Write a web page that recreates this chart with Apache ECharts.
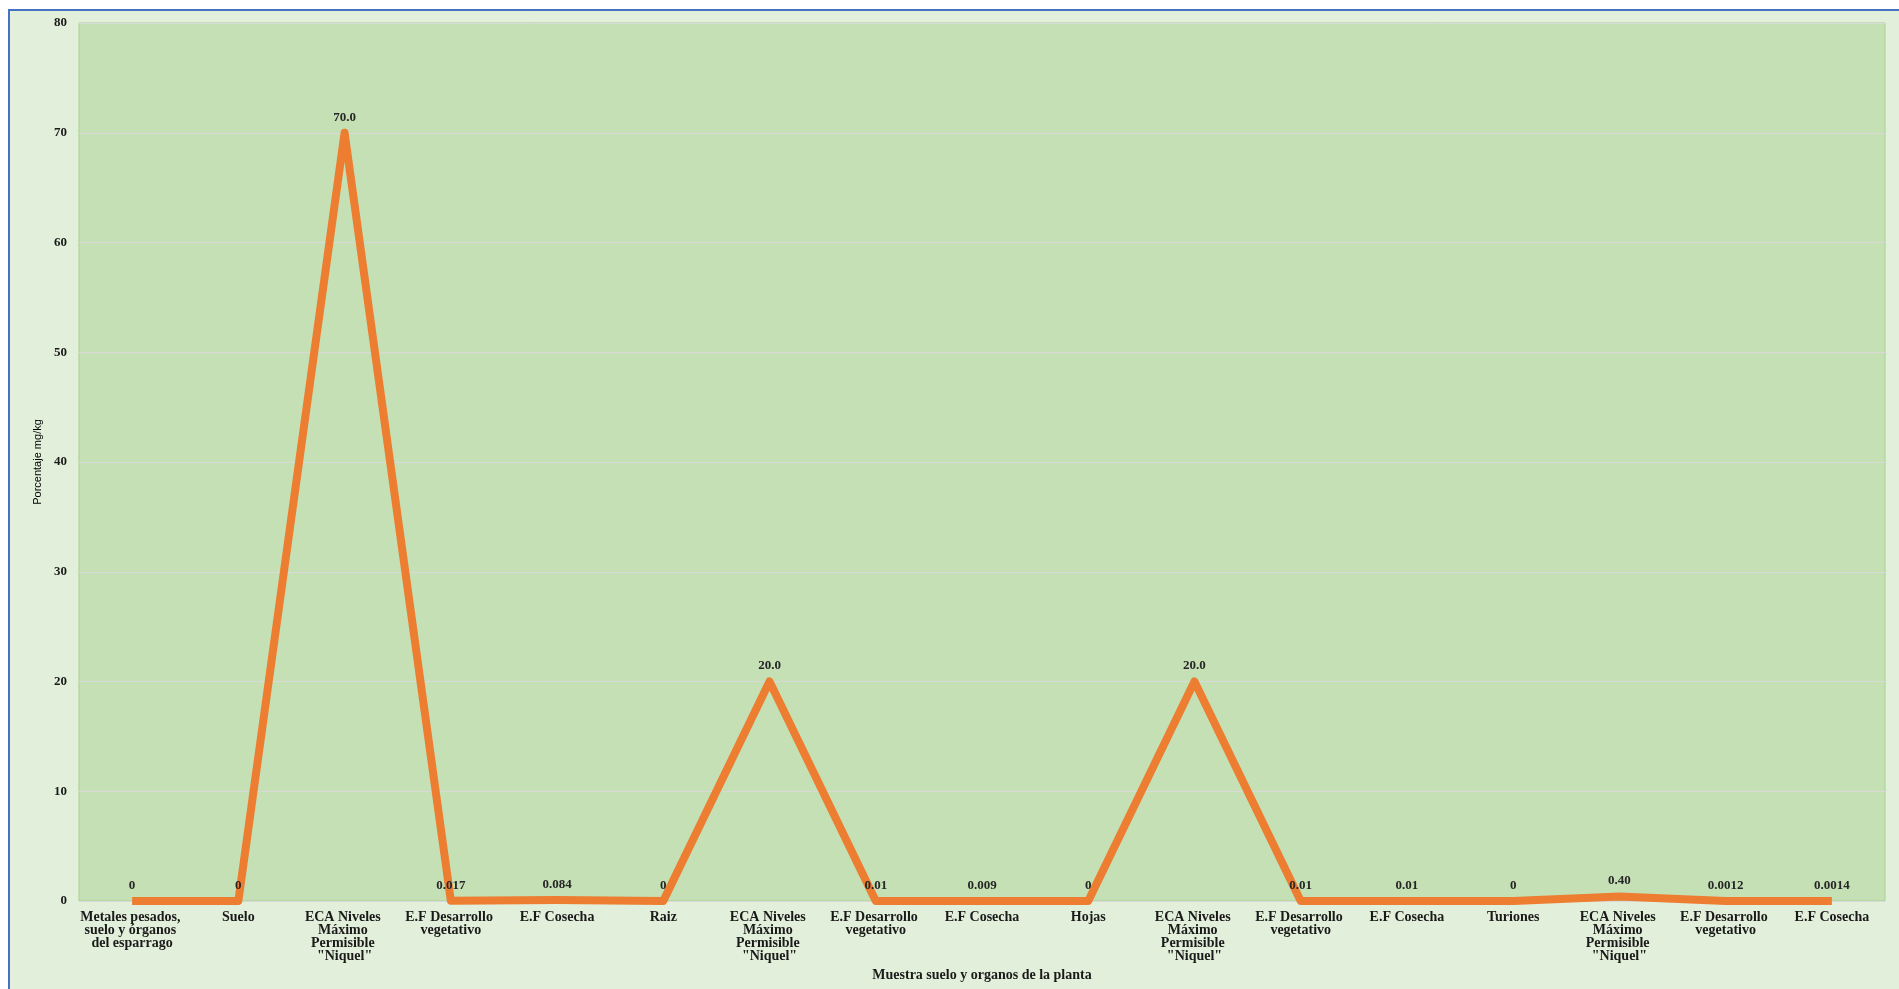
<!DOCTYPE html>
<html>
<head>
<meta charset="utf-8">
<script src="https://cdn.jsdelivr.net/npm/echarts@6/dist/echarts.min.js"></script>
<style>
  html, body { margin: 0; padding: 0; background: #ffffff; width: 1899px; height: 989px; overflow: hidden; }
  #frame { position: absolute; left: 8px; top: 9px; width: 1960px; height: 1060px;
           border-left: 2px solid #4472C4; border-top: 2px solid #4472C4; background: #E2EFDA; }
  #chart { position: absolute; left: 0; top: 0; width: 1899px; height: 989px; }
</style>
</head>
<body>
<div id="frame"></div>
<div id="chart"></div>
<script>
// Níquel en suelo y órganos del espárrago (mg/kg)
const categories = [
  'Metales pesados, suelo y órganos del esparrago',
  'Suelo',
  'ECA Niveles Máximo Permisible "Niquel"',
  'E.F Desarrollo vegetativo',
  'E.F Cosecha',
  'Raiz',
  'ECA Niveles Máximo Permisible "Niquel"',
  'E.F Desarrollo vegetativo',
  'E.F Cosecha',
  'Hojas',
  'ECA Niveles Máximo Permisible "Niquel"',
  'E.F Desarrollo vegetativo',
  'E.F Cosecha',
  'Turiones',
  'ECA Niveles Máximo Permisible "Niquel"',
  'E.F Desarrollo vegetativo',
  'E.F Cosecha'
];
const valueLabels = ['0', '0', '70.0', '0.017', '0.084', '0', '20.0', '0.01', '0.009', '0', '20.0', '0.01', '0.01', '0', '0.40', '0.0012', '0.0014'];
const niquel = valueLabels.map(Number);
const yTicks = [0, 10, 20, 30, 40, 50, 60, 70, 80];

const serif = '"Liberation Serif", "DejaVu Serif", serif';
const chart = echarts.init(document.getElementById('chart'), null, { renderer: 'canvas' });

chart.setOption({
  backgroundColor: 'transparent',
  animation: false,
  grid: {
    left: 79, top: 23, right: 14, bottom: 88,
    show: true, backgroundColor: '#C5E0B4', borderColor: '#A9D18E', borderWidth: 1
  },
  xAxis: {
    type: 'category',
    data: categories,
    boundaryGap: true,
    axisLine: { show: false },
    axisTick: { show: false },
    axisLabel: {
      interval: 0, color: '#1a1a1a', fontFamily: serif, fontWeight: 'bold',
      fontSize: 14, lineHeight: 13, width: 112, overflow: 'break', margin: 10
    },
    name: 'Muestra suelo y organos de la planta',
    nameLocation: 'middle', nameGap: 66,
    nameTextStyle: { color: '#1a1a1a', fontFamily: serif, fontWeight: 'bold', fontSize: 14 }
  },
  yAxis: {
    type: 'value',
    min: yTicks[0], max: yTicks[yTicks.length - 1], interval: 10,
    axisLine: { show: false },
    axisTick: { show: false },
    splitLine: { show: true, lineStyle: { color: '#D9D9D9', width: 1 } },
    axisLabel: { color: '#1a1a1a', fontFamily: serif, fontWeight: 'bold', fontSize: 13, margin: 12 },
    name: 'Porcentaje mg/kg',
    nameLocation: 'middle', nameGap: 34, nameRotate: 90,
    nameTextStyle: { color: '#000', fontFamily: '"Liberation Sans", sans-serif', fontSize: 11 }
  },
  series: [{
    type: 'line',
    data: niquel,
    symbol: 'circle',
    symbolSize: 0.1,
    showSymbol: true,
    lineStyle: { color: '#ED7D31', width: 8, cap: 'butt', join: 'round' },
    itemStyle: { color: '#ED7D31' },
    labelLayout: { hideOverlap: false },
    label: {
      show: true, position: 'top', distance: 9,
      color: '#262626', fontFamily: serif, fontWeight: 'bold', fontSize: 13,
      formatter: p => valueLabels[p.dataIndex]
    }
  }]
});
</script>
</body>
</html>
